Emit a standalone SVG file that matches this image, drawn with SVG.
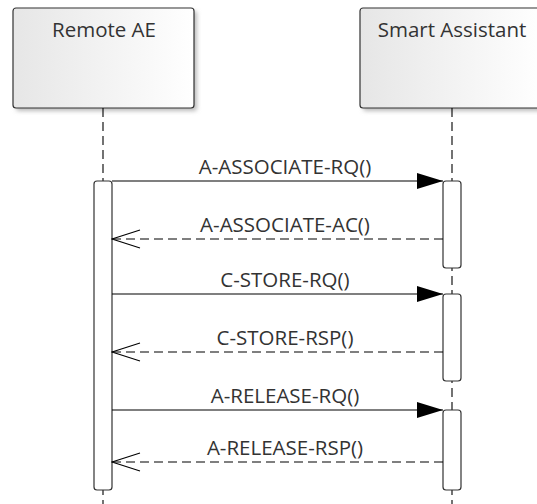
<svg xmlns="http://www.w3.org/2000/svg" width="537" height="504" viewBox="0 0 537 504">
<defs>
<linearGradient id="hdr" x1="0" y1="0" x2="1" y2="0">
<stop offset="0" stop-color="#e6e6e6"/>
<stop offset="1" stop-color="#ffffff"/>
</linearGradient>
<filter id="sh" x="-10%" y="-10%" width="130%" height="130%">
<feGaussianBlur stdDeviation="2"/>
</filter>
<marker id="filled" markerWidth="26" markerHeight="16" refX="26" refY="8" orient="auto" markerUnits="userSpaceOnUse">
<path d="M0,0 L26,8 L0,16 Z" fill="#000"/>
</marker>
<marker id="open" markerWidth="30" markerHeight="20" refX="29" refY="10" orient="auto" markerUnits="userSpaceOnUse">
<path d="M1,1 L29,10 L1,19" fill="none" stroke="#000" stroke-width="1.1"/>
</marker>
</defs>
<style>
.hdr{fill:url(#hdr);stroke:#333;stroke-width:1.2}
.shadow{fill:#bbb;filter:url(#sh)}
.life{stroke:#000;stroke-width:1.1;stroke-dasharray:9,5;fill:none}
.act{fill:#fff;stroke:#333;stroke-width:1.2}
.msg{stroke:#000;stroke-width:1.1;fill:none}
.ret{stroke:#000;stroke-width:1.1;fill:none;stroke-dasharray:9,5}
text{font-family:"Open Sans","Noto Sans","Liberation Sans",sans-serif;font-size:20.5px;fill:#333;text-anchor:middle}
</style>
<rect width="537" height="504" fill="#fff"/>
<g id="remote-ae">
<rect class="shadow" x="16" y="11" width="181" height="100" rx="3"/>
<rect class="hdr" x="13" y="8" width="181" height="100" rx="3"/>
<text x="104" y="37">Remote AE</text>
</g>
<g id="smart-assistant">
<rect class="shadow" x="363" y="11" width="181" height="100" rx="3"/>
<rect class="hdr" x="360" y="8" width="183" height="100" rx="3"/>
<text x="452" y="37">Smart Assistant</text>
</g>
<g id="lifelines">
<line class="life" x1="103" y1="108" x2="103" y2="504"/>
<line class="life" x1="452" y1="108" x2="452" y2="504"/>
</g>
<g id="activations">
<rect class="act" x="94" y="181" width="18" height="309" rx="3"/>
<rect class="act" x="443" y="181" width="18" height="87" rx="3"/>
<rect class="act" x="443" y="294" width="18" height="87" rx="3"/>
<rect class="act" x="443" y="410" width="18" height="80" rx="3"/>
</g>
<g id="connectors">
<line class="msg" x1="112" y1="181" x2="443" y2="181" marker-end="url(#filled)"/>
<line class="ret" x1="443" y1="239" x2="112" y2="239" marker-end="url(#open)"/>
<line class="msg" x1="112" y1="294" x2="443" y2="294" marker-end="url(#filled)"/>
<line class="ret" x1="443" y1="352" x2="112" y2="352" marker-end="url(#open)"/>
<line class="msg" x1="112" y1="410" x2="443" y2="410" marker-end="url(#filled)"/>
<line class="ret" x1="443" y1="462" x2="112" y2="462" marker-end="url(#open)"/>
</g>
<g id="labels">
<text x="285" y="174">A-ASSOCIATE-RQ()</text>
<text x="285" y="232">A-ASSOCIATE-AC()</text>
<text x="285" y="287">C-STORE-RQ()</text>
<text x="285" y="345">C-STORE-RSP()</text>
<text x="285" y="403">A-RELEASE-RQ()</text>
<text x="285" y="455">A-RELEASE-RSP()</text>
</g>
</svg>
